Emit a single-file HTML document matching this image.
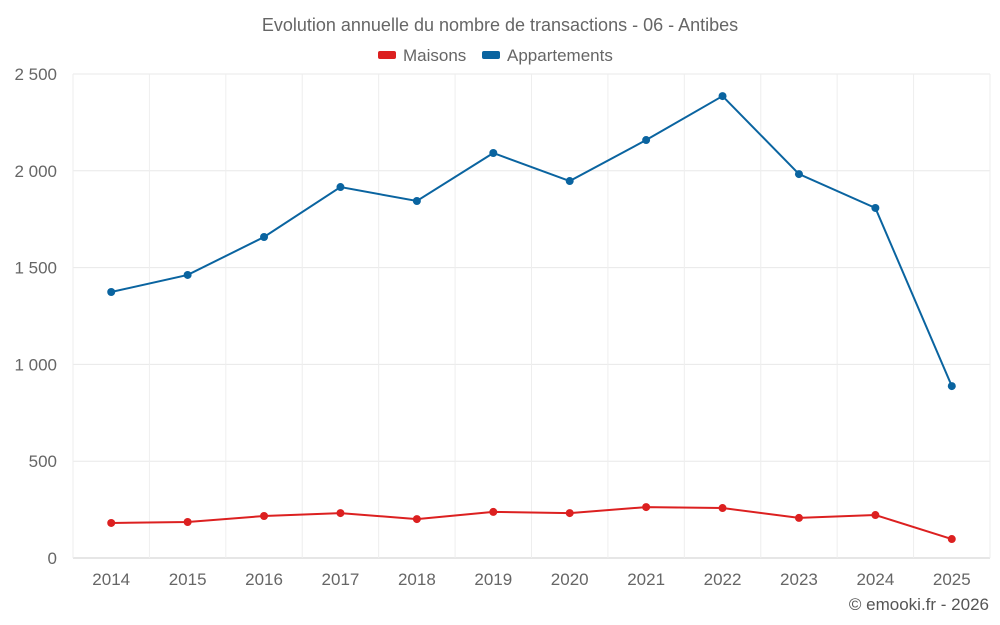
<!DOCTYPE html>
<html><head><meta charset="utf-8"><style>
html,body{margin:0;padding:0;background:#fff;width:1000px;height:625px;overflow:hidden}
text{font-family:"Liberation Sans",sans-serif}
</style></head><body>
<svg id="chart" width="1000" height="625">
<text x="500" y="31" text-anchor="middle" font-size="18" fill="#666">Evolution annuelle du nombre de transactions - 06 - Antibes</text>
<g>
<g><rect x="378" y="51" width="18" height="8" rx="2" fill="#dc2020"/><text x="403" y="61" font-size="17" fill="#666">Maisons</text></g>
<g><rect x="482" y="51" width="18" height="8" rx="2" fill="#0a64a0"/><text x="507" y="61" font-size="17" fill="#666">Appartements</text></g>
</g>
<g id="grid"></g><g id="axes"></g><g id="series"></g>
<text x="989" y="610" text-anchor="end" font-size="17" fill="#555">© emooki.fr - 2026</text>
</svg>
<script>
const categories=["2014","2015","2016","2017","2018","2019","2020","2021","2022","2023","2024","2025"];
const maisons=[181,186,217,232,201,238,232,263,258,207,222,98];
const appartements=[1374,1462,1658,1916,1844,2092,1947,2159,2386,1983,1808,888];
const yTicks=[0,500,1000,1500,2000,2500];
const yTickLabels=["0","500","1 000","1 500","2 000","2 500"];
const L=73,R=990,T=74,B=558,yMax=2500;
const step=(R-L)/categories.length;
const xs=i=>L+step*(i+0.5);
const ys=v=>B-(v/yMax)*(B-T);
const NS="http://www.w3.org/2000/svg";
function mk(p,tag,a){const e=document.createElementNS(NS,tag);for(const k in a)e.setAttribute(k,a[k]);p.appendChild(e);return e;}
const g=document.getElementById('grid'),ax=document.getElementById('axes'),s=document.getElementById('series');
yTicks.forEach((t,i)=>{
 const l=mk(g,'line',{x1:L,x2:R,y1:ys(t),y2:ys(t),stroke:t===0?'#ccc':'#e8e8e8','stroke-width':1});
 
 
 const tx=mk(ax,'text',{x:57,y:ys(t)+6,'text-anchor':'end','font-size':17,fill:'#666'});tx.textContent=yTickLabels[i];
 
 
});
for(let i=0;i<=categories.length;i++){
 const l=mk(g,'line',{x1:L+step*i,x2:L+step*i,y1:T,y2:B,stroke:'#eee','stroke-width':1});
 
 
}
categories.forEach((c,i)=>{
 const tx=mk(ax,'text',{x:xs(i),y:585,'text-anchor':'middle','font-size':17,fill:'#666'});tx.textContent=c;
 
 
});
function draw(data,color,name){
 const p=mk(s,'polyline',{points:data.map((v,i)=>xs(i)+','+ys(v)).join(' '),fill:'none',stroke:color,'stroke-width':2});
 
 
 data.forEach((v,i)=>{
  const c=mk(s,'circle',{cx:xs(i),cy:ys(v),r:4,fill:color});
  
  
 });
}
draw(maisons,'#dc2020','maisons');
draw(appartements,'#0a64a0','appartements');
</script>
</body></html>
